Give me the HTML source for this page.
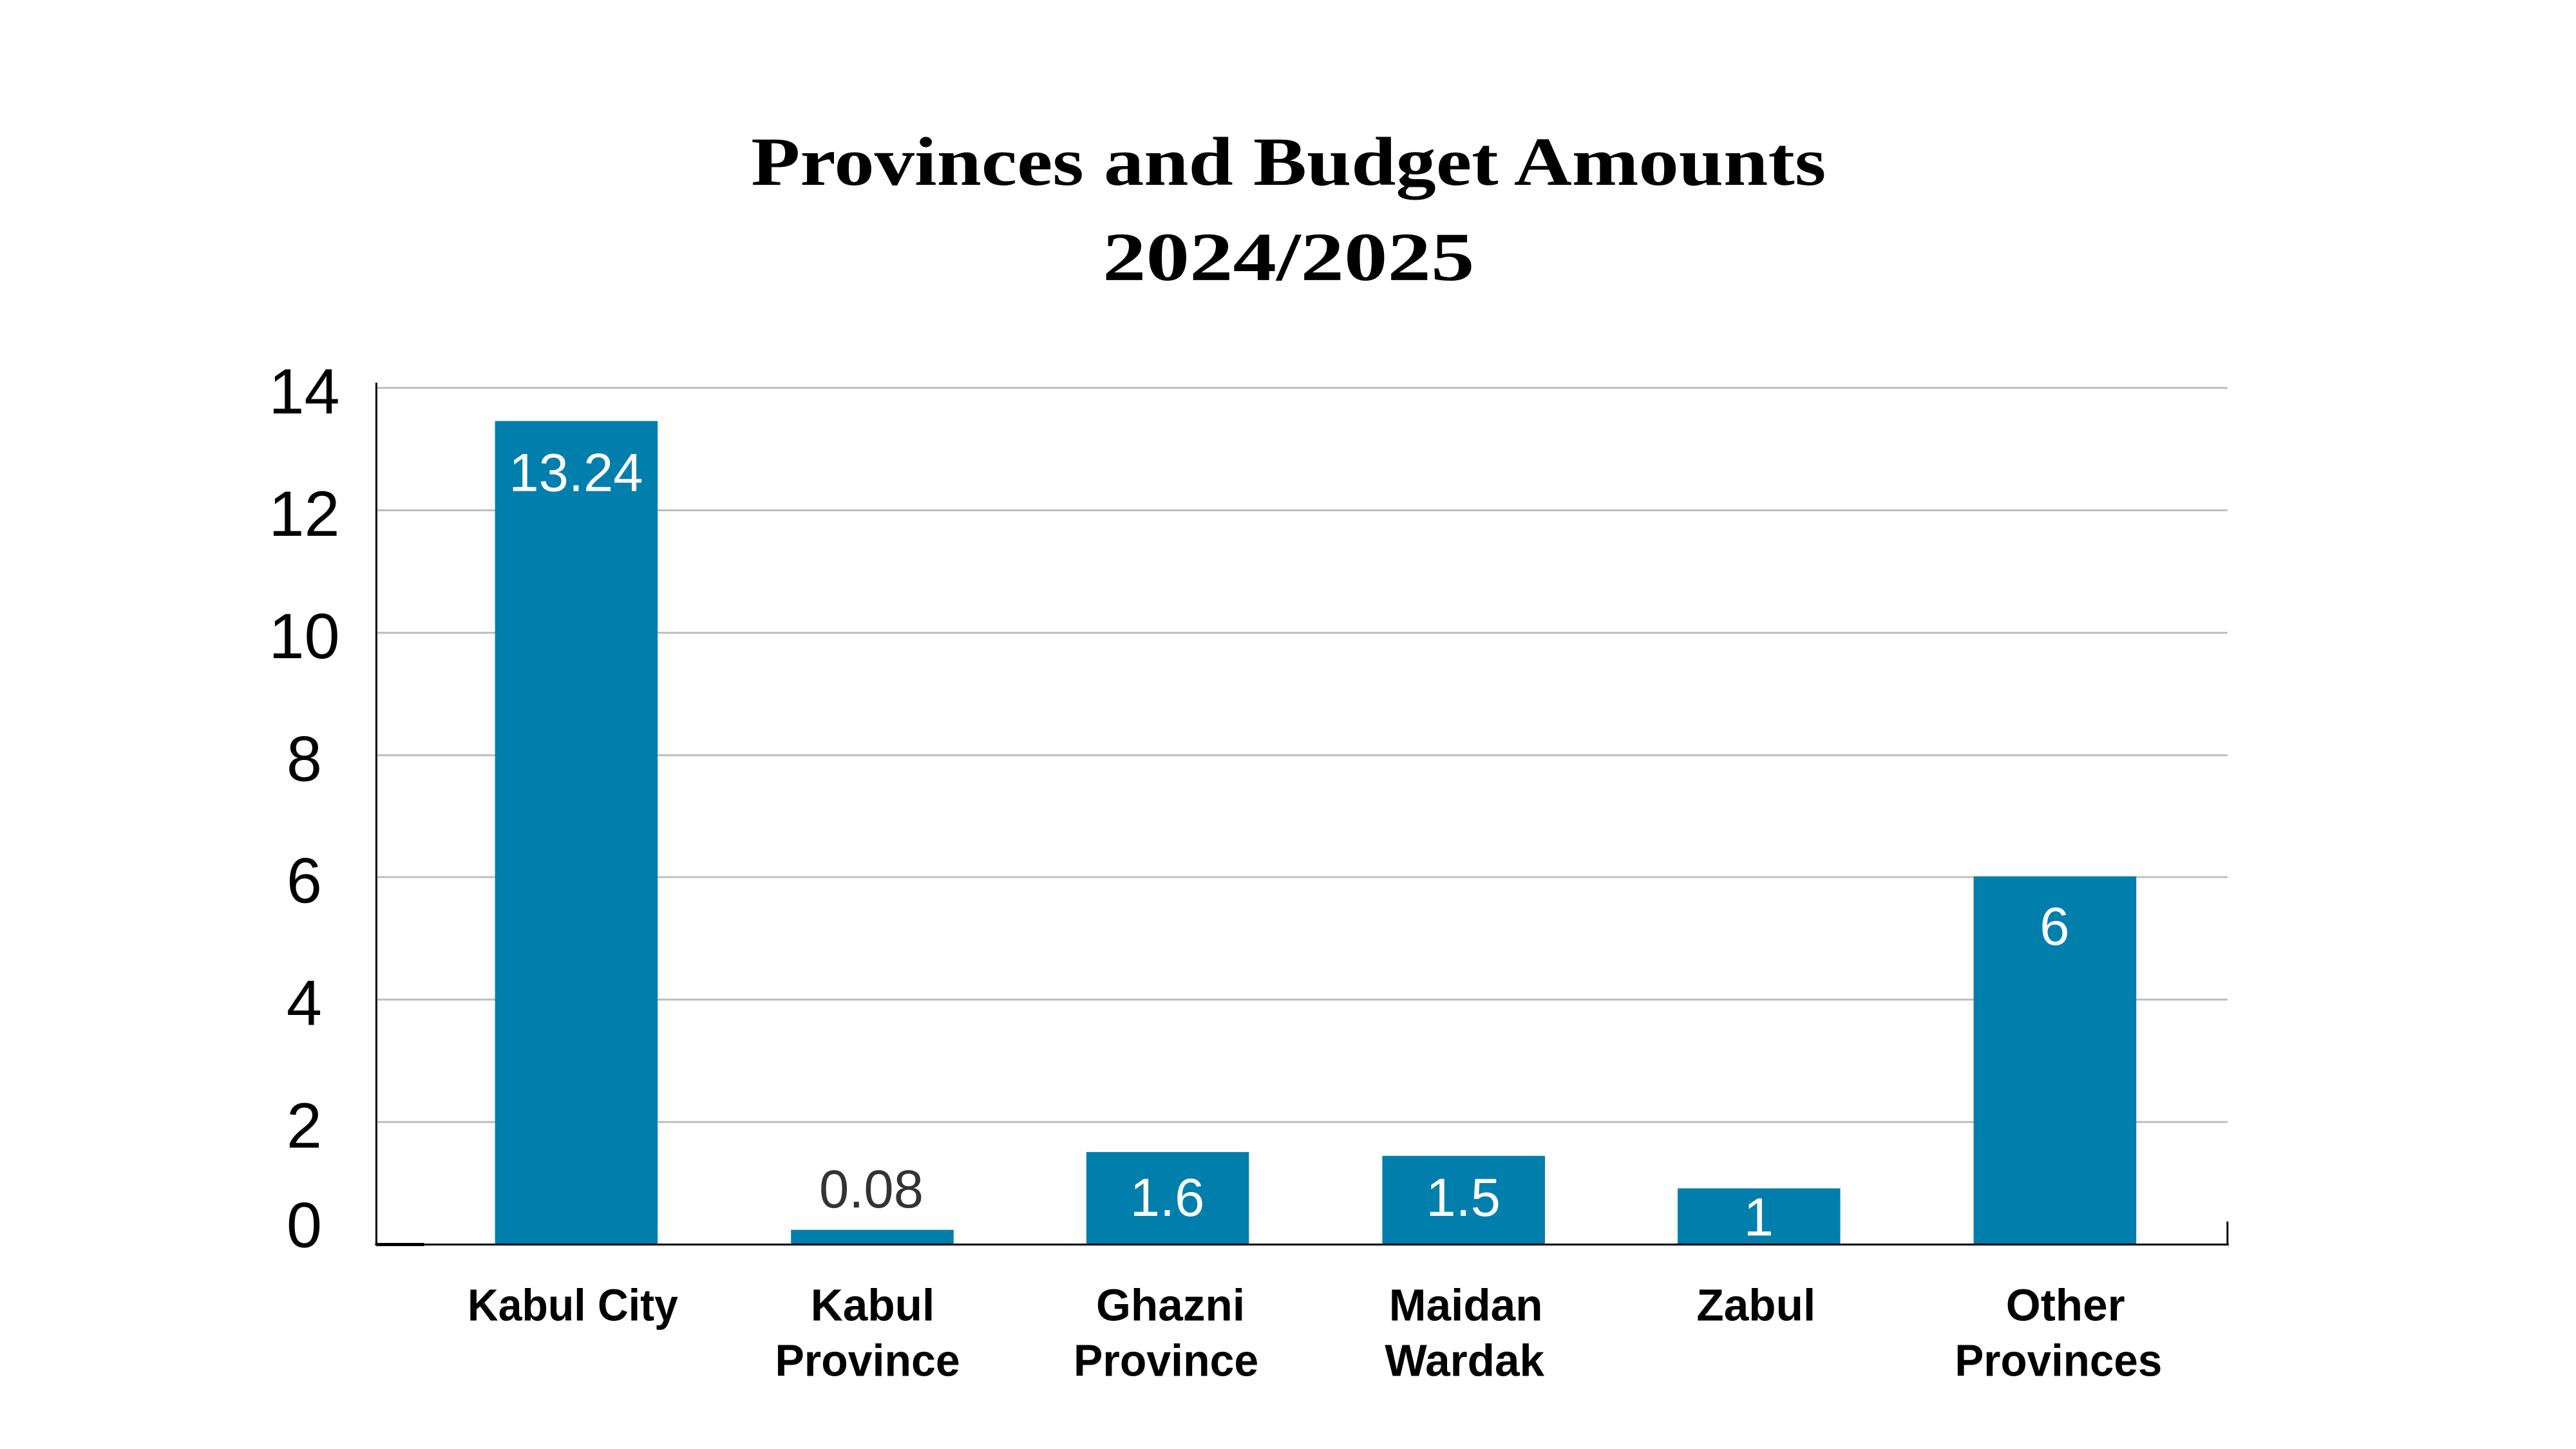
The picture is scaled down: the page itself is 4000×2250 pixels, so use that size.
<!DOCTYPE html>
<html><head><meta charset="utf-8"><style>html,body{margin:0;padding:0;background:#fff}svg{display:block}</style></head>
<body>
<svg width="4000" height="2250" viewBox="0 0 4000 2250" xmlns="http://www.w3.org/2000/svg">
<rect width="4000" height="2250" fill="#fff"/>
<g transform="scale(0.9905)">
<g font-family="Liberation Serif, serif" font-weight="bold" font-size="108" fill="#000" text-anchor="middle">
<text x="2020" y="290" textLength="1685" lengthAdjust="spacingAndGlyphs">Provinces and Budget Amounts</text>
<text x="2020" y="439" textLength="583" lengthAdjust="spacingAndGlyphs">2024/2025</text>
</g>
<g stroke="#bdbdbd" stroke-width="3">
<line x1="590" y1="608" x2="3492" y2="608"/>
<line x1="590" y1="800" x2="3492" y2="800"/>
<line x1="590" y1="992" x2="3492" y2="992"/>
<line x1="590" y1="1184" x2="3492" y2="1184"/>
<line x1="590" y1="1375" x2="3492" y2="1375"/>
<line x1="590" y1="1567" x2="3492" y2="1567"/>
<line x1="590" y1="1759" x2="3492" y2="1759"/>
</g>
<g fill="#007fad">
<rect x="776" y="660" width="255" height="1291"/>
<rect x="1240" y="1928" width="255" height="23"/>
<rect x="1703" y="1806" width="255" height="145"/>
<rect x="2167" y="1812" width="255" height="139"/>
<rect x="2630" y="1863" width="255" height="88"/>
<rect x="3094" y="1374" width="255" height="577"/>
</g>
<line x1="590" y1="600" x2="590" y2="1951" stroke="#000" stroke-width="3"/>
<line x1="588" y1="1951" x2="3494" y2="1951" stroke="#000" stroke-width="3"/>
<line x1="590" y1="1951" x2="665" y2="1951" stroke="#000" stroke-width="5"/>
<line x1="3492" y1="1915" x2="3492" y2="1951" stroke="#000" stroke-width="3"/>
<g font-family="Liberation Sans, sans-serif" font-size="100" fill="#000" text-anchor="middle">
<text x="477" y="648">14</text>
<text x="477" y="840">12</text>
<text x="477" y="1032">10</text>
<text x="477" y="1224">8</text>
<text x="477" y="1415">6</text>
<text x="477" y="1607">4</text>
<text x="477" y="1799">2</text>
<text x="477" y="1955">0</text>
</g>
<g font-family="Liberation Sans, sans-serif" font-size="84" text-anchor="middle" fill="#fff">
<text x="903" y="770">13.24</text>
<text x="1366" y="1893" fill="#333">0.08</text>
<text x="1830" y="1906">1.6</text>
<text x="2294" y="1906">1.5</text>
<text x="2757" y="1937">1</text>
<text x="3221" y="1481">6</text>
</g>
<g font-family="Liberation Sans, sans-serif" font-weight="bold" font-size="70" text-anchor="middle" fill="#000">
<text x="898" y="2070" textLength="330" lengthAdjust="spacingAndGlyphs">Kabul City</text>
<text x="1368" y="2070">Kabul</text>
<text x="1360" y="2157" textLength="290" lengthAdjust="spacingAndGlyphs">Province</text>
<text x="1835" y="2070">Ghazni</text>
<text x="1828" y="2157" textLength="290" lengthAdjust="spacingAndGlyphs">Province</text>
<text x="2298" y="2070">Maidan</text>
<text x="2296" y="2157">Wardak</text>
<text x="2753" y="2070">Zabul</text>
<text x="3238" y="2070">Other</text>
<text x="3227" y="2157" textLength="325" lengthAdjust="spacingAndGlyphs">Provinces</text>
</g>
</g>
</svg>
</body></html>
